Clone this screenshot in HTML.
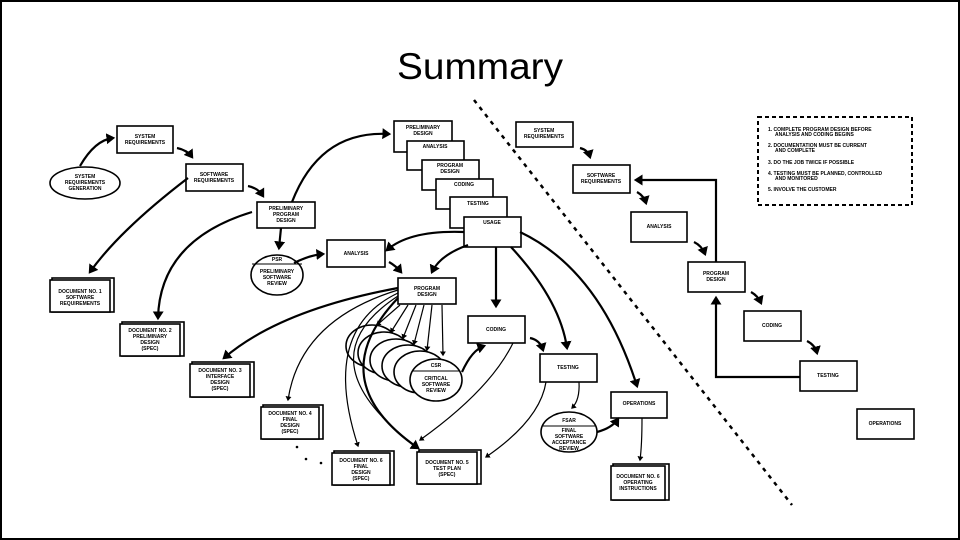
<!DOCTYPE html>
<html><head><meta charset="utf-8"><style>
html,body{margin:0;padding:0;background:#fff;}
svg{display:block}
.b{fill:#fff;stroke:#000;stroke-width:1.6}
.t{font-family:"Liberation Sans",sans-serif;font-weight:bold;font-size:5px;text-anchor:middle;fill:#000}
.a{fill:none;stroke:#000;stroke-width:2.2;marker-end:url(#ar)}
.a1{fill:none;stroke:#000;stroke-width:1.2;marker-end:url(#ar)}
.l{fill:none;stroke:#000;stroke-width:1}
</style></head><body>
<svg width="960" height="540" viewBox="0 0 960 540" xmlns="http://www.w3.org/2000/svg">
<defs><marker id="ar" markerWidth="5" markerHeight="5" refX="3" refY="2.5" orient="auto" markerUnits="strokeWidth"><path d="M0,0 L4,2.5 L0,5 Z" fill="#000"/></marker></defs>
<rect x="1" y="1" width="958" height="538" fill="none" stroke="#000" stroke-width="2"/>
<text x="480" y="79" font-family="Liberation Sans,sans-serif" font-size="37" text-anchor="middle" textLength="166" lengthAdjust="spacingAndGlyphs">Summary</text>

<!-- left boxes -->
<rect class="b" x="117" y="126" width="56" height="27"/><text class="t" x="145" y="138">SYSTEM</text><text class="t" x="145" y="144">REQUIREMENTS</text>
<ellipse class="b" cx="85" cy="183" rx="35" ry="16"/><text class="t" x="85" y="178">SYSTEM</text><text class="t" x="85" y="184">REQUIREMENTS</text><text class="t" x="85" y="190">GENERATION</text>
<rect class="b" x="186" y="164" width="57" height="27"/><text class="t" x="214" y="176">SOFTWARE</text><text class="t" x="214" y="182">REQUIREMENTS</text>
<rect class="b" x="257" y="202" width="58" height="26"/><text class="t" x="286" y="210">PRELIMINARY</text><text class="t" x="286" y="216">PROGRAM</text><text class="t" x="286" y="222">DESIGN</text>
<ellipse class="b" cx="277" cy="275" rx="26" ry="20"/><line class="l" x1="252" y1="264" x2="302" y2="264"/><text class="t" x="277" y="261">PSR</text><text class="t" x="277" y="273">PRELIMINARY</text><text class="t" x="277" y="279">SOFTWARE</text><text class="t" x="277" y="285">REVIEW</text>
<rect class="b" x="327" y="240" width="58" height="27"/><text class="t" x="356" y="255">ANALYSIS</text>
<rect class="b" x="398" y="278" width="58" height="26"/><text class="t" x="427" y="290">PROGRAM</text><text class="t" x="427" y="296">DESIGN</text>

<!-- stack -->
<rect class="b" x="394" y="121" width="58" height="31"/><text class="t" x="423" y="129">PRELIMINARY</text><text class="t" x="423" y="135">DESIGN</text>
<rect class="b" x="407" y="141" width="57" height="29"/><text class="t" x="435" y="148">ANALYSIS</text>
<rect class="b" x="422" y="160" width="57" height="30"/><text class="t" x="450" y="167">PROGRAM</text><text class="t" x="450" y="173">DESIGN</text>
<rect class="b" x="436" y="179" width="57" height="30"/><text class="t" x="464" y="186">CODING</text>
<rect class="b" x="450" y="197" width="57" height="31"/><text class="t" x="478" y="205">TESTING</text>
<rect class="b" x="464" y="217" width="57" height="30"/><text class="t" x="492" y="224">USAGE</text>

<!-- docs -->
<rect class="b" x="52" y="278" width="62" height="34"/><rect class="b" x="50" y="280" width="60" height="32"/><text class="t" x="80" y="293">DOCUMENT NO. 1</text><text class="t" x="80" y="299">SOFTWARE</text><text class="t" x="80" y="305">REQUIREMENTS</text>
<rect class="b" x="122" y="322" width="62" height="34"/><rect class="b" x="120" y="324" width="60" height="32"/><text class="t" x="150" y="332">DOCUMENT NO. 2</text><text class="t" x="150" y="338">PRELIMINARY</text><text class="t" x="150" y="344">DESIGN</text><text class="t" x="150" y="350">(SPEC)</text>
<rect class="b" x="192" y="362" width="62" height="35"/><rect class="b" x="190" y="364" width="60" height="33"/><text class="t" x="220" y="372">DOCUMENT NO. 3</text><text class="t" x="220" y="378">INTERFACE</text><text class="t" x="220" y="384">DESIGN</text><text class="t" x="220" y="390">(SPEC)</text>
<rect class="b" x="263" y="405" width="60" height="34"/><rect class="b" x="261" y="407" width="58" height="32"/><text class="t" x="290" y="415">DOCUMENT NO. 4</text><text class="t" x="290" y="421">FINAL</text><text class="t" x="290" y="427">DESIGN</text><text class="t" x="290" y="433">(SPEC)</text>
<rect class="b" x="334" y="451" width="60" height="34"/><rect class="b" x="332" y="453" width="58" height="32"/><text class="t" x="361" y="462">DOCUMENT NO. 6</text><text class="t" x="361" y="468">FINAL</text><text class="t" x="361" y="474">DESIGN</text><text class="t" x="361" y="480">(SPEC)</text>
<rect class="b" x="419" y="450" width="62" height="34"/><rect class="b" x="417" y="452" width="60" height="32"/><text class="t" x="447" y="464">DOCUMENT NO. 5</text><text class="t" x="447" y="470">TEST PLAN</text><text class="t" x="447" y="476">(SPEC)</text>
<rect class="b" x="613" y="464" width="56" height="36"/><rect class="b" x="611" y="466" width="54" height="34"/><text class="t" x="638" y="478">DOCUMENT NO. 6</text><text class="t" x="638" y="484">OPERATING</text><text class="t" x="638" y="490">INSTRUCTIONS</text>
<circle cx="297" cy="447" r="1.3"/><circle cx="306" cy="459" r="1.3"/><circle cx="321" cy="463" r="1.3"/>

<!-- CSR circles -->
<ellipse class="b" cx="372" cy="346" rx="26" ry="21"/>
<ellipse class="b" cx="384" cy="353" rx="26" ry="21"/>
<ellipse class="b" cx="396" cy="360" rx="26" ry="21"/>
<ellipse class="b" cx="408" cy="366" rx="26" ry="21"/>
<ellipse class="b" cx="420" cy="372" rx="26" ry="21"/>
<ellipse class="b" cx="436" cy="380" rx="26" ry="21"/><line class="l" x1="412" y1="371" x2="460" y2="371"/>
<text class="t" x="436" y="367">CSR</text><text class="t" x="436" y="380">CRITICAL</text><text class="t" x="436" y="386">SOFTWARE</text><text class="t" x="436" y="392">REVIEW</text>

<rect class="b" x="468" y="316" width="57" height="27"/><text class="t" x="496" y="331">CODING</text>
<rect class="b" x="540" y="354" width="57" height="28"/><text class="t" x="568" y="369">TESTING</text>
<ellipse class="b" cx="569" cy="432" rx="28" ry="20"/><line class="l" x1="542" y1="426" x2="596" y2="426"/><text class="t" x="569" y="422">FSAR</text><text class="t" x="569" y="432">FINAL</text><text class="t" x="569" y="438">SOFTWARE</text><text class="t" x="569" y="444">ACCEPTANCE</text><text class="t" x="569" y="450">REVIEW</text>
<rect class="b" x="611" y="392" width="56" height="26"/><text class="t" x="639" y="405">OPERATIONS</text>

<!-- left arrows -->
<path class="a" d="M80,166 Q95,140 113,138"/>
<path class="a" d="M177,148 Q187,150 192,157"/>
<path class="a" d="M248,186 Q258,188 263,196"/>
<path class="a" d="M188,178 Q120,230 90,272"/>
<path class="a" d="M252,212 Q160,240 158,318"/>
<path class="a" d="M292,202 Q320,130 389,134"/>
<path class="a" d="M281,228 L279,248"/>
<path class="a" d="M294,263 Q310,255 323,254"/>
<path class="a" d="M389,262 Q396,266 401,272"/>
<path class="a" d="M464,232 Q410,230 387,250"/>
<path class="a" d="M468,245 Q440,255 432,272"/>
<path class="a" d="M496,247 L496,306"/>
<path class="a" d="M511,247 Q560,300 567,348"/>
<path class="a" d="M520,232 Q600,270 637,386"/>
<path class="a" d="M398,288 Q280,310 224,358"/>
<path class="a1" d="M398,290 Q300,320 288,400"/>
<path class="a1" d="M398,293 Q320,330 358,446"/>
<path class="a1" d="M398,296 Q300,360 418,448"/>
<path class="a" d="M398,298 Q320,380 418,448"/>
<path class="a1" d="M400,305 L377,325"/><path class="a1" d="M408,305 L391,332"/><path class="a1" d="M416,305 L403,338"/><path class="a1" d="M424,305 L414,344"/><path class="a1" d="M432,305 L427,350"/><path class="a1" d="M442,305 L443,355"/>
<path class="a" d="M462,372 Q472,350 484,346"/>
<path class="a" d="M530,338 Q540,340 543,350"/>
<path class="a1" d="M513,343 Q490,390 420,440"/>
<path class="a1" d="M546,382 Q540,420 486,457"/>
<path class="a1" d="M579,382 Q580,400 572,408"/>
<path class="a" d="M597,432 Q612,428 618,419"/>
<path class="a1" d="M642,418 Q642,445 640,460"/>

<!-- diagonal dashed -->
<line x1="474" y1="100" x2="792" y2="505" stroke="#000" stroke-width="2.5" stroke-dasharray="4,5"/>

<!-- right side -->
<rect class="b" x="516" y="122" width="57" height="25"/><text class="t" x="544" y="132">SYSTEM</text><text class="t" x="544" y="138">REQUIREMENTS</text>
<rect class="b" x="573" y="165" width="57" height="28"/><text class="t" x="601" y="177">SOFTWARE</text><text class="t" x="601" y="183">REQUIREMENTS</text>
<rect class="b" x="631" y="212" width="56" height="30"/><text class="t" x="659" y="228">ANALYSIS</text>
<rect class="b" x="688" y="262" width="57" height="30"/><text class="t" x="716" y="275">PROGRAM</text><text class="t" x="716" y="281">DESIGN</text>
<rect class="b" x="744" y="311" width="57" height="30"/><text class="t" x="772" y="327">CODING</text>
<rect class="b" x="800" y="361" width="57" height="30"/><text class="t" x="828" y="377">TESTING</text>
<rect class="b" x="857" y="409" width="57" height="30"/><text class="t" x="885" y="425">OPERATIONS</text>
<path class="a" d="M580,148 Q588,150 590,157"/>
<path class="a" d="M637,192 Q644,196 646,203"/>
<path class="a" d="M694,242 Q702,246 705,254"/>
<path class="a" d="M751,292 Q758,296 761,303"/>
<path class="a" d="M807,341 Q815,345 817,353"/>
<path class="a" d="M716,262 L716,180 L636,180"/>
<path class="a" d="M800,377 L716,377 L716,298"/>

<!-- notes box -->
<rect x="758" y="117" width="154" height="88" fill="none" stroke="#000" stroke-width="2" stroke-dasharray="4,3"/>
<g font-family="Liberation Sans,sans-serif" font-weight="bold" font-size="5" fill="#000">
<text x="768" y="131">1.  COMPLETE PROGRAM DESIGN BEFORE</text><text x="775" y="136">ANALYSIS AND CODING BEGINS</text>
<text x="768" y="147">2.  DOCUMENTATION MUST BE CURRENT</text><text x="775" y="152">AND COMPLETE</text>
<text x="768" y="164">3.  DO THE JOB TWICE IF POSSIBLE</text>
<text x="768" y="175">4.  TESTING MUST BE PLANNED, CONTROLLED</text><text x="775" y="180">AND MONITORED</text>
<text x="768" y="191">5.  INVOLVE THE CUSTOMER</text>
</g>
</svg>
</body></html>
